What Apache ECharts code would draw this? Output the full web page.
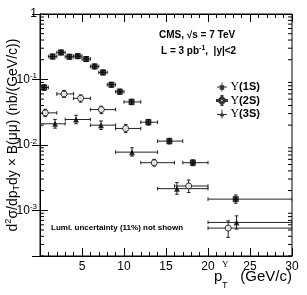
<!DOCTYPE html>
<html><head><meta charset="utf-8">
<script src="https://cdn.jsdelivr.net/npm/echarts@6/dist/echarts.min.js"></script>
<style>html,body{margin:0;padding:0;background:#fff}#c{width:307px;height:295px}</style>
</head><body><div id="c"></div>
<script>
// ---- data ----
var s1_x   = [0.5,1.5,2.5,3.5,4.5,5.5,6.5,7.5,8.5,9.5,10.9,12.9,15.4,18.2,23.3];
var s1_xlo = [0,1,2,3,4,5,6,7,8,9,10,12,14,17,20];
var s1_xhi = [1,2,3,4,5,6,7,8,9,10,12,14,17,20,30];
var s1_y   = [0.0755,0.224,0.258,0.222,0.227,0.205,0.158,0.128,0.083,0.065,0.0453,0.0222,0.0114,0.00534,0.00148];
var s1_ylo = [0.068,0.205,0.237,0.204,0.208,0.188,0.145,0.117,0.076,0.059,0.041,0.020,0.0103,0.0048,0.00128];
var s1_yhi = [0.083,0.244,0.281,0.242,0.247,0.223,0.172,0.139,0.090,0.071,0.050,0.0245,0.0126,0.0059,0.00171];

var s2_x   = [0.63,2.86,4.84,7.3,10.2,13.6,17.7,22.4];
var s2_xlo = [0,2,4,6,9,12,16,20];
var s2_xhi = [2,4,6,9,12,16,20,30];
var s2_y   = [0.0308,0.060,0.0514,0.0346,0.0178,0.00534,0.00235,0.000534];
var s2_ylo = [0.027,0.053,0.045,0.030,0.0155,0.00474,0.00187,0.000385];
var s2_yhi = [0.035,0.068,0.058,0.039,0.0205,0.0060,0.0029,0.00069];

var s3_x   = [1.79,4.29,7.26,10.95,16.3,23.4];
var s3_xlo = [0,3,6,9,14,20];
var s3_xhi = [3,6,9,14,20,30];
var s3_y   = [0.0210,0.0244,0.0200,0.00774,0.00214,0.000652];
var s3_ylo = [0.0180,0.0210,0.0172,0.00673,0.00176,0.000515];
var s3_yhi = [0.0245,0.0283,0.0232,0.00904,0.00265,0.000822];

var seriesNames = ['Υ(1S)','Υ(2S)','Υ(3S)'];
var xTickLabels = ['','5','10','15','20','25','30'];

// ---- helpers ----
function rows(x,y,xlo,xhi,ylo,yhi){
  var r=[]; for(var i=0;i<x.length;i++) r.push([x[i],y[i],xlo[i],xhi[i],ylo[i],yhi[i]]); return r;
}
function pts(x,y){ var r=[]; for(var i=0;i<x.length;i++) r.push([x[i],y[i]]); return r; }

var LINE='#222';
function renderErr(params, api){
  var x=api.value(0), y=api.value(1);
  var pl=api.coord([api.value(2),y]), pr=api.coord([api.value(3),y]);
  var pb=api.coord([x,api.value(4)]), pt=api.coord([x,api.value(5)]);
  var c=1.8, st={stroke:LINE,lineWidth:1};
  return {type:'group',children:[
    {type:'line',shape:{x1:pl[0],y1:pl[1],x2:pr[0],y2:pr[1]},style:st},
    {type:'line',shape:{x1:pl[0],y1:pl[1]-c,x2:pl[0],y2:pl[1]+c},style:st},
    {type:'line',shape:{x1:pr[0],y1:pr[1]-c,x2:pr[0],y2:pr[1]+c},style:st},
    {type:'line',shape:{x1:pb[0],y1:pb[1],x2:pt[0],y2:pt[1]},style:st},
    {type:'line',shape:{x1:pb[0]-c,y1:pb[1],x2:pb[0]+c,y2:pb[1]},style:st},
    {type:'line',shape:{x1:pt[0]-c,y1:pt[1],x2:pt[0]+c,y2:pt[1]},style:st}
  ]};
}
// log minor tick positions (2..9 per decade)
var minorVals=[];
for(var k=-4;k<=-1;k++){ for(var m=2;m<=9;m++){ var v=m*Math.pow(10,k); if(v>=2e-4-1e-12 && v<1) minorVals.push([v]); } }
function renderMinor(params, api){
  var v=api.value(0);
  var l=api.coord([0,v]), r=api.coord([30,v]);
  var st={stroke:'#000',lineWidth:1};
  return {type:'group',children:[
    {type:'line',shape:{x1:l[0],y1:l[1],x2:l[0]+4,y2:l[1]},style:st},
    {type:'line',shape:{x1:r[0],y1:r[1],x2:r[0]-4,y2:r[1]},style:st}
  ]};
}

var FONT='"Liberation Sans", Arial, Helvetica, sans-serif';
var SERIF='"Liberation Serif", "DejaVu Serif", serif';

var chart=echarts.init(document.getElementById('c'),null,{renderer:'canvas'});
var yLabelRich={n:{fontFamily:FONT,fontSize:12,color:'#000'},s:{fontFamily:FONT,fontSize:8,color:'#000',verticalAlign:'top',padding:[0,0,7,0]}};
function yFmt(v){
  var e=Math.round(Math.log(v)/Math.LN10);
  if(Math.abs(v-Math.pow(10,e))>1e-9*Math.pow(10,e)) return '';
  if(e===0) return '{n|1}';
  return '{n|10}{s|'+e+'}';
}
var legendRich={a:{fontFamily:SERIF,fontSize:12,color:'#000'},b:{fontFamily:FONT,fontSize:11,fontWeight:'bold',color:'#000'}};

var option={
  animation:false,
  backgroundColor:'#fff',
  grid:{left:40,right:15,top:14,bottom:39,show:true,borderColor:'#000',borderWidth:1,backgroundColor:'transparent'},
  xAxis:[
    {type:'value',min:0,max:30,interval:5,position:'bottom',
     axisLine:{show:true,lineStyle:{color:'#000'}},
     axisTick:{show:true,inside:true,length:8,lineStyle:{color:'#000'}},
     minorTick:{show:true,splitNumber:5,length:4,lineStyle:{color:'#000'}},
     splitLine:{show:false},
     axisLabel:{color:'#000',fontFamily:FONT,fontSize:12,margin:5,formatter:function(v){return xTickLabels[Math.round(v/5)]||'';}}},
    {type:'value',min:0,max:30,interval:5,position:'top',
     axisLine:{show:true,lineStyle:{color:'#000'}},
     axisTick:{show:true,inside:true,length:8,lineStyle:{color:'#000'}},
     minorTick:{show:true,splitNumber:5,length:4,lineStyle:{color:'#000'}},
     splitLine:{show:false},axisLabel:{show:false}}
  ],
  yAxis:[
    {type:'log',logBase:10,min:2e-4,max:1,position:'left',
     axisLine:{show:true,lineStyle:{color:'#000'}},
     axisTick:{show:true,inside:true,length:8,lineStyle:{color:'#000'}},
     splitLine:{show:false},
     axisLabel:{formatter:yFmt,rich:yLabelRich,margin:3,showMinLabel:true}},
    {type:'log',logBase:10,min:2e-4,max:1,position:'right',
     axisLine:{show:true,lineStyle:{color:'#000'}},
     axisTick:{show:true,inside:true,length:8,lineStyle:{color:'#000'}},
     splitLine:{show:false},axisLabel:{show:false}}
  ],
  legend:{
    orient:'vertical',left:211,top:76,itemGap:1.5,itemWidth:11,itemHeight:9,
    selectedMode:false,
    data:[
      {name:seriesNames[0],icon:'path://M0,4.5h11v1h-11z M5,0h1v10h-1z M3,3h5v5h-5z'},
      {name:seriesNames[1],icon:'path://M0,4.5h3v1h-3z M8,4.5h3v1h-3z M5,0h1v2h-1z M5,8h1v2h-1z M5.5,2A3,3 0 1,1 5.5,8A3,3 0 1,1 5.5,2Z M5.5,3A2,2 0 1,0 5.5,7A2,2 0 1,0 5.5,3Z'},
      {name:seriesNames[2],icon:'path://M0,5h11v1h-11z M5,0h1v10h-1z M5.5,2.5L8,7.5h-5z'}
    ],
    formatter:function(n){return '{a|Υ}{b|'+n.slice(1)+'}';},
    textStyle:{rich:legendRich,padding:[0,0,0,-2]}
  },
  graphic:[
    {type:'text',x:159,y:35,style:{text:'CMS, √s = 7 TeV',font:'bold 10px '+FONT,fill:'#000',verticalAlign:'middle'}},
    {type:'text',x:161,y:51,style:{text:'L = 3 pb{s|-1},  |y|<2',font:'bold 10px '+FONT,fill:'#000',verticalAlign:'middle',
      rich:{s:{font:'bold 7px '+FONT,fill:'#000',verticalAlign:'top',padding:[0,0,6,0]}}}},
    {type:'text',x:51,y:228,style:{text:'Lumi. uncertainty (11%) not shown',font:'bold 8px '+FONT,fill:'#000',verticalAlign:'middle'}},
    {type:'text',x:13,y:135,rotation:Math.PI/2,style:{
      text:'d{s|2}σ/dp{b|T}dy × B(μμ) (nb/(GeV/c))',font:'14px '+FONT,fill:'#000',align:'center',verticalAlign:'middle',
      rich:{s:{font:'9px '+FONT,fill:'#000',verticalAlign:'top',padding:[0,0,8,0]},b:{font:'9px '+FONT,fill:'#000',verticalAlign:'bottom',padding:[6,0,0,0]}}}},
    {type:'text',x:214,y:277,style:{text:'p',font:'15px '+FONT,fill:'#000',verticalAlign:'middle'}},
    {type:'text',x:222,y:265,style:{text:'Υ',font:'9px '+SERIF,fill:'#000',verticalAlign:'middle'}},
    {type:'text',x:222,y:286,style:{text:'T',font:'9px '+FONT,fill:'#000',verticalAlign:'middle'}},
    {type:'text',x:292,y:277,style:{text:'(GeV/c)',font:'15px '+FONT,fill:'#000',align:'right',verticalAlign:'middle'}}
  ],
  series:[
    {type:'custom',name:'minor',renderItem:renderMinor,data:minorVals,encode:{y:0},xAxisIndex:0,yAxisIndex:0,silent:true,z:1},
    {type:'custom',name:'e1',renderItem:renderErr,data:rows(s1_x,s1_y,s1_xlo,s1_xhi,s1_ylo,s1_yhi),encode:{x:0,y:1},clip:true,z:2},
    {type:'custom',name:'e2',renderItem:renderErr,data:rows(s2_x,s2_y,s2_xlo,s2_xhi,s2_ylo,s2_yhi),encode:{x:0,y:1},clip:true,z:2},
    {type:'custom',name:'e3',renderItem:renderErr,data:rows(s3_x,s3_y,s3_xlo,s3_xhi,s3_ylo,s3_yhi),encode:{x:0,y:1},clip:true,z:2},
    {type:'scatter',name:seriesNames[0],data:pts(s1_x,s1_y),symbol:'rect',symbolSize:6,itemStyle:{color:'#000'},z:3},
    {type:'scatter',name:seriesNames[1],data:pts(s2_x,s2_y),symbol:'circle',symbolSize:6,itemStyle:{color:'#fff',borderColor:'#000',borderWidth:1},z:3},
    {type:'scatter',name:seriesNames[2],data:pts(s3_x,s3_y),symbol:'triangle',symbolSize:6,itemStyle:{color:'#000'},z:3}
  ]
};
chart.setOption(option);
</script></body></html>
